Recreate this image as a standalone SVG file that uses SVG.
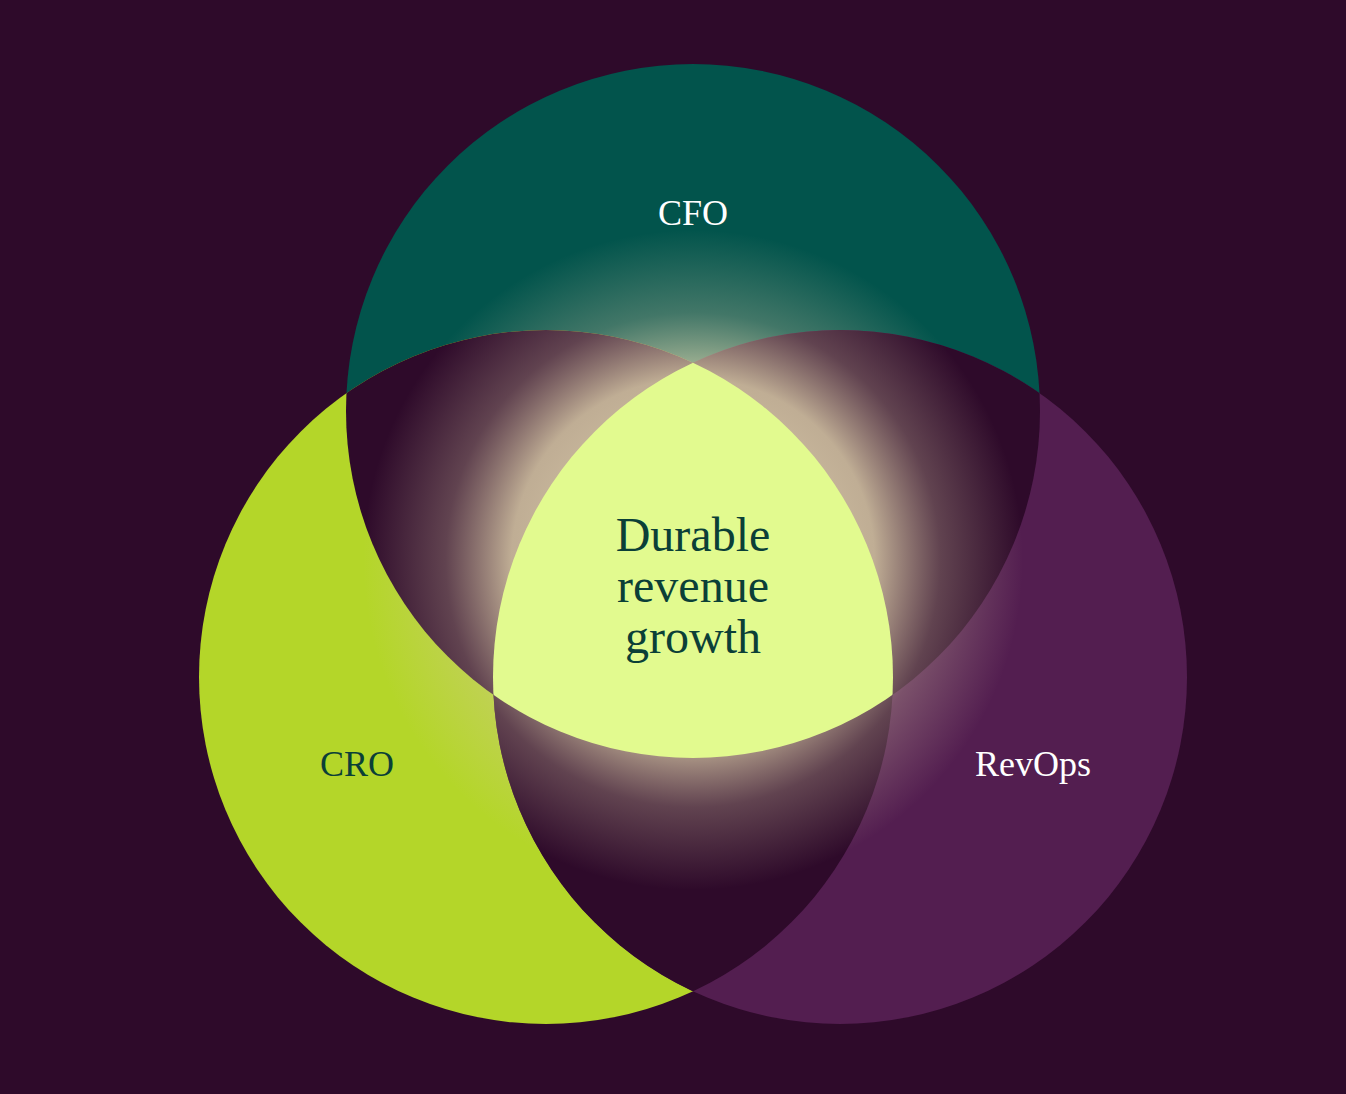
<svg xmlns="http://www.w3.org/2000/svg" width="1346" height="1094" viewBox="0 0 1346 1094">
<style>
.lbl{font-family:"Liberation Serif","DejaVu Serif",serif;font-size:36px;text-anchor:middle}
.ctr{font-family:"Liberation Serif","DejaVu Serif",serif;font-size:48px;text-anchor:middle;fill:#0b3f37}
</style>
<defs>
<clipPath id="cT"><circle cx="693" cy="411" r="347"/></clipPath>
<clipPath id="cL"><circle cx="546" cy="677" r="347"/></clipPath>
<clipPath id="cR"><circle cx="840" cy="677" r="347"/></clipPath>
<radialGradient id="glow" cx="693" cy="560" r="330" gradientUnits="userSpaceOnUse">
<stop offset="0" stop-color="#f6ecc4" stop-opacity="0.9"/>
<stop offset="0.55" stop-color="#f0e4b8" stop-opacity="0.75"/>
<stop offset="0.75" stop-color="#d8c8a8" stop-opacity="0.3"/>
<stop offset="1" stop-color="#d8c8a8" stop-opacity="0"/>
</radialGradient>
</defs>
<rect width="1346" height="1094" fill="#2e0a2a"/>
<g id="cfo"><circle cx="693" cy="411" r="347" fill="#02544c"/></g>
<g id="cro"><circle cx="546" cy="677" r="347" fill="#b4d629"/></g>
<g id="revops"><circle cx="840" cy="677" r="347" fill="#531e50"/></g>
<g id="overlaps" fill="#2e0a2a">
<g clip-path="url(#cT)"><circle cx="546" cy="677" r="347"/><circle cx="840" cy="677" r="347"/></g>
<g clip-path="url(#cL)"><circle cx="840" cy="677" r="347"/></g>
</g>
<g id="glowlayer"><circle cx="693" cy="560" r="330" fill="url(#glow)"/></g>
<g id="center">
<g clip-path="url(#cT)"><g clip-path="url(#cL)"><circle cx="840" cy="677" r="347" fill="#e2fa8f"/></g></g>
<text class="ctr" x="693" y="551">Durable</text>
<text class="ctr" x="693" y="602">revenue</text>
<text class="ctr" x="693" y="653">growth</text>
</g>
<g id="labels">
<text class="lbl" x="693" y="225" fill="#ffffff">CFO</text>
<text class="lbl" x="357" y="776" fill="#0b3f37">CRO</text>
<text class="lbl" x="1033" y="776" fill="#ffffff">RevOps</text>
</g>
<g id="connectors"/>
</svg>
